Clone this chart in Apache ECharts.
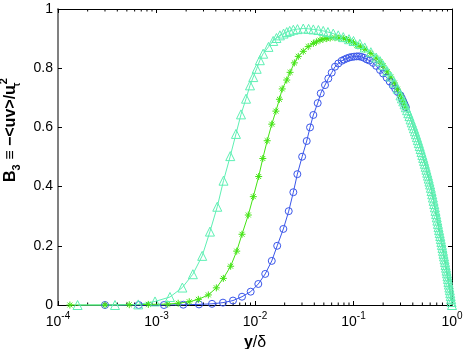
<!DOCTYPE html>
<html>
<head>
<meta charset="utf-8">
<script src="https://cdn.jsdelivr.net/npm/echarts@6/dist/echarts.min.js"></script>
<style>
  html, body { margin: 0; padding: 0; background: #fff; }
  #main { width: 463px; height: 349px; }
</style>
</head>
<body>
<div id="main"></div>
<script>
// near-wall / rising part of each profile
const blueX = [3.0e-4, 6.6e-4, 1.19e-3, 1.87e-3, 2.70e-3, 3.66e-3, 4.73e-3, 5.98e-3, 7.38e-3, 9.04e-3,
  0.0108, 0.0127, 0.0148, 0.0168, 0.0194, 0.0220, 0.0245, 0.0269, 0.0301, 0.0335,
  0.0362, 0.0391, 0.0433, 0.0465, 0.0514, 0.0555, 0.0601, 0.0649, 0.0701, 0.0759,
  0.0803, 0.0853, 0.0905, 0.0959, 0.1015, 0.108, 0.114, 0.121, 0.128, 0.136,
  0.145, 0.158, 0.17, 0.186, 0.20, 0.217, 0.233, 0.25, 0.265, 0.28];
const blueY = [0, 0, 0, 0.001, 0.002, 0.004, 0.008, 0.015, 0.028, 0.045,
  0.071, 0.105, 0.149, 0.200, 0.257, 0.317, 0.381, 0.442, 0.501, 0.554,
  0.600, 0.642, 0.682, 0.715, 0.743, 0.765, 0.785, 0.805, 0.816, 0.825,
  0.829, 0.833, 0.836, 0.838, 0.839, 0.840, 0.840, 0.838, 0.835, 0.830,
  0.826, 0.818, 0.808, 0.794, 0.782, 0.768, 0.755, 0.742, 0.731, 0.720];

const greenX = [1.32e-4, 3.0e-4, 5.29e-4, 8.26e-4, 1.30e-3, 1.66e-3, 2.15e-3, 2.66e-3, 3.36e-3, 4.05e-3,
  4.77e-3, 5.66e-3, 6.52e-3, 7.38e-3, 8.55e-3, 9.61e-3, 0.0109, 0.0120, 0.0133, 0.0148,
  0.0163, 0.0177, 0.0189, 0.0210, 0.0227, 0.0251, 0.0275, 0.0309, 0.0347, 0.0391,
  0.042, 0.0457, 0.049, 0.0535, 0.058, 0.0649, 0.071, 0.0787, 0.085, 0.092,
  0.10, 0.108, 0.118, 0.13, 0.15, 0.17, 0.186, 0.20, 0.22, 0.24, 0.26, 0.28];
const greenY = [0, 0, 0.001, 0.002, 0.003, 0.006, 0.011, 0.019, 0.034, 0.058,
  0.090, 0.131, 0.182, 0.239, 0.304, 0.366, 0.434, 0.495, 0.555, 0.611,
  0.655, 0.695, 0.730, 0.760, 0.786, 0.818, 0.840, 0.857, 0.873, 0.884,
  0.889, 0.895, 0.898, 0.900, 0.902, 0.903, 0.902, 0.900, 0.897, 0.892,
  0.886, 0.878, 0.872, 0.864, 0.850, 0.834, 0.822, 0.808, 0.788, 0.770, 0.750, 0.729];

const cyanX = [1.58e-4, 3.79e-4, 6.53e-4, 9.66e-4, 1.37e-3, 1.83e-3, 2.34e-3, 2.91e-3, 3.49e-3, 4.14e-3,
  4.79e-3, 5.61e-3, 6.41e-3, 7.21e-3, 8.11e-3, 8.90e-3, 9.6e-3, 0.0104, 0.0112, 0.0121,
  0.0137, 0.0153, 0.0165, 0.0179, 0.0195, 0.0210, 0.0225, 0.0245, 0.027, 0.0309,
  0.035, 0.0391, 0.044, 0.0493, 0.055, 0.0623, 0.07, 0.0787, 0.09, 0.10,
  0.116, 0.13, 0.15, 0.17, 0.186, 0.20, 0.22, 0.24, 0.26, 0.28];
const cyanY = [0, 0, 0.002, 0.012, 0.027, 0.059, 0.104, 0.166, 0.248, 0.332,
  0.420, 0.503, 0.578, 0.644, 0.697, 0.742, 0.770, 0.798, 0.827, 0.849,
  0.872, 0.892, 0.902, 0.911, 0.917, 0.922, 0.926, 0.930, 0.932, 0.934,
  0.933, 0.931, 0.929, 0.926, 0.922, 0.917, 0.911, 0.905, 0.898, 0.892,
  0.882, 0.870, 0.854, 0.836, 0.824, 0.810, 0.790, 0.772, 0.752, 0.731];

// outer part, where the three curves fall on top of each other
const tailX = [0.30, 0.31, 0.32, 0.33, 0.34, 0.35, 0.36, 0.37, 0.38, 0.39,
  0.40, 0.41, 0.42, 0.43, 0.44, 0.45, 0.46, 0.47, 0.48, 0.49,
  0.50, 0.51, 0.52, 0.53, 0.54, 0.55, 0.56, 0.57, 0.58, 0.59,
  0.60, 0.61, 0.62, 0.63, 0.64, 0.65, 0.66, 0.67, 0.68, 0.69,
  0.70, 0.71, 0.72, 0.73, 0.74, 0.75, 0.76, 0.77, 0.78, 0.79,
  0.80, 0.81, 0.82, 0.83, 0.84, 0.85, 0.86, 0.87, 0.88, 0.89,
  0.90, 0.91, 0.92, 0.93, 0.94, 0.95, 0.96, 0.97, 0.98, 0.99, 1.00];
const tailY = [0.708, 0.698, 0.688, 0.678, 0.668, 0.658, 0.648, 0.638, 0.627, 0.617,
  0.607, 0.597, 0.587, 0.577, 0.567, 0.557, 0.547, 0.537, 0.527, 0.517,
  0.507, 0.497, 0.487, 0.477, 0.467, 0.457, 0.447, 0.437, 0.427, 0.417,
  0.407, 0.396, 0.385, 0.374, 0.363, 0.352, 0.341, 0.330, 0.318, 0.307,
  0.296, 0.285, 0.274, 0.263, 0.253, 0.243, 0.233, 0.223, 0.213, 0.203,
  0.193, 0.183, 0.173, 0.164, 0.154, 0.145, 0.135, 0.126, 0.116, 0.107,
  0.097, 0.088, 0.078, 0.069, 0.059, 0.050, 0.040, 0.030, 0.020, 0.010, 0];

const yTicks = [0, 0.2, 0.4, 0.6, 0.8, 1];
const decades = [1e-4, 1e-3, 1e-2, 1e-1];
const minorMult = [2, 3, 4, 5, 6, 7, 8, 9];

// head points + shared tail; lower curves keep their markers only a little way
// into the tail, since the cyan band covers them there
function pairs(xs, ys, markAll) {
  const out = xs.map((x, i) => [x, ys[i]]);
  return out.concat(tailX.map((x, i) => {
    if (markAll || x <= 0.34) return [x, tailY[i]];
    return { value: [x, tailY[i]], symbol: 'none' };
  }));
}

const minorTicks = [];
decades.forEach(d => minorMult.forEach(m => minorTicks.push([m * d, 0])));

const FONT = 'Liberation Sans';
const starPath = 'path://M5 0L5 10M0 5L10 5M1.5 1.5L8.5 8.5M8.5 1.5L1.5 8.5';

function profile(name, data, color, symbol, size) {
  return {
    name: name,
    type: 'line',
    data: data,
    clip: false,
    symbol: symbol,
    symbolSize: size,
    showAllSymbol: true,
    lineStyle: { color: color, width: 1 },
    itemStyle: { color: 'rgba(0,0,0,0)', borderColor: color, borderWidth: 1 },
    emphasis: { disabled: true },
    z: 3
  };
}

const boxLine = { show: true, onZero: false, lineStyle: { color: '#000', width: 1 } };
const inTick = { show: true, inside: true, length: 4, lineStyle: { color: '#000' } };

const chart = echarts.init(document.getElementById('main'));
chart.setOption({
  animation: false,
  backgroundColor: '#fff',
  grid: { left: 58, right: 11, top: 9, bottom: 44, containLabel: false, outerBoundsMode: 'none' },
  xAxis: [
    {
      type: 'log', logBase: 10, min: 1e-4, max: 1, position: 'bottom',
      name: '{b|y}{n|/δ}', nameLocation: 'middle', nameGap: 30,
      nameTextStyle: {
        rich: {
          b: { fontFamily: FONT, fontSize: 16, fontWeight: 'bold', color: '#000' },
          n: { fontFamily: FONT, fontSize: 16, color: '#000' }
        }
      },
      axisLine: boxLine,
      axisTick: inTick,
      splitLine: { show: false },
      axisLabel: {
        margin: 6,
        formatter: v => '{b|10}{e|' + Math.round(Math.log10(v)) + '}',
        rich: {
          b: { fontFamily: FONT, fontSize: 14, color: '#000', verticalAlign: 'bottom', lineHeight: 18 },
          e: { fontFamily: FONT, fontSize: 10, color: '#000', verticalAlign: 'top', lineHeight: 12 }
        }
      }
    },
    {
      type: 'log', logBase: 10, min: 1e-4, max: 1, position: 'top',
      axisLine: boxLine,
      axisTick: inTick,
      axisLabel: { show: false },
      splitLine: { show: false }
    }
  ],
  yAxis: [
    {
      type: 'value', min: 0, max: 1, interval: 0.2, position: 'left',
      name: '{b|B}{s|3}{b| ≡ −<uv>/u}{t|τ}{p|2}',
      nameLocation: 'middle', nameRotate: 90, nameGap: 34,
      nameTextStyle: {
        padding: [0, 0, 0, 54],
        rich: {
          b: { fontFamily: FONT, fontSize: 16, fontWeight: 'bold', color: '#000', lineHeight: 24 },
          s: { fontFamily: FONT, fontSize: 11, fontWeight: 'bold', color: '#000', verticalAlign: 'bottom', lineHeight: 12 },
          t: { fontFamily: FONT, fontSize: 10, fontWeight: 'bold', color: '#000', verticalAlign: 'bottom', lineHeight: 12, width: 1 },
          p: { fontFamily: FONT, fontSize: 11, fontWeight: 'bold', color: '#000', verticalAlign: 'top', lineHeight: 12 }
        }
      },
      axisLine: { show: true, onZero: false, lineStyle: { color: '#808080', width: 2 } },
      axisTick: inTick,
      splitLine: { show: false },
      axisLabel: {
        margin: 5, fontFamily: FONT, fontSize: 14, color: '#000',
        formatter: v => yTicks.indexOf(+v.toFixed(1)) >= 0 ? String(+v.toFixed(1)) : ''
      }
    },
    {
      type: 'value', min: 0, max: 1, interval: 0.2, position: 'right',
      axisLine: boxLine,
      axisTick: inTick,
      axisLabel: { show: false },
      splitLine: { show: false }
    }
  ],
  series: [
    {
      type: 'custom',
      silent: true,
      data: minorTicks,
      z: 1,
      renderItem: function (params, api) {
        const b = api.coord([api.value(0), 0]);
        const t = api.coord([api.value(0), 1]);
        return {
          type: 'group',
          children: [
            { type: 'line', shape: { x1: b[0], y1: b[1], x2: b[0], y2: b[1] - 2.5 }, style: { stroke: '#000', lineWidth: 1 } },
            { type: 'line', shape: { x1: t[0], y1: t[1], x2: t[0], y2: t[1] + 2.5 }, style: { stroke: '#000', lineWidth: 1 } }
          ]
        };
      }
    },
    profile('blue', pairs(blueX, blueY, false), '#3a56ea', 'circle', 7),
    profile('green', pairs(greenX, greenY, false), '#44e414', starPath, 7),
    profile('cyan', pairs(cyanX, cyanY, true), '#5ef0b4', 'triangle', 9)
  ]
});
</script>
</body>
</html>
